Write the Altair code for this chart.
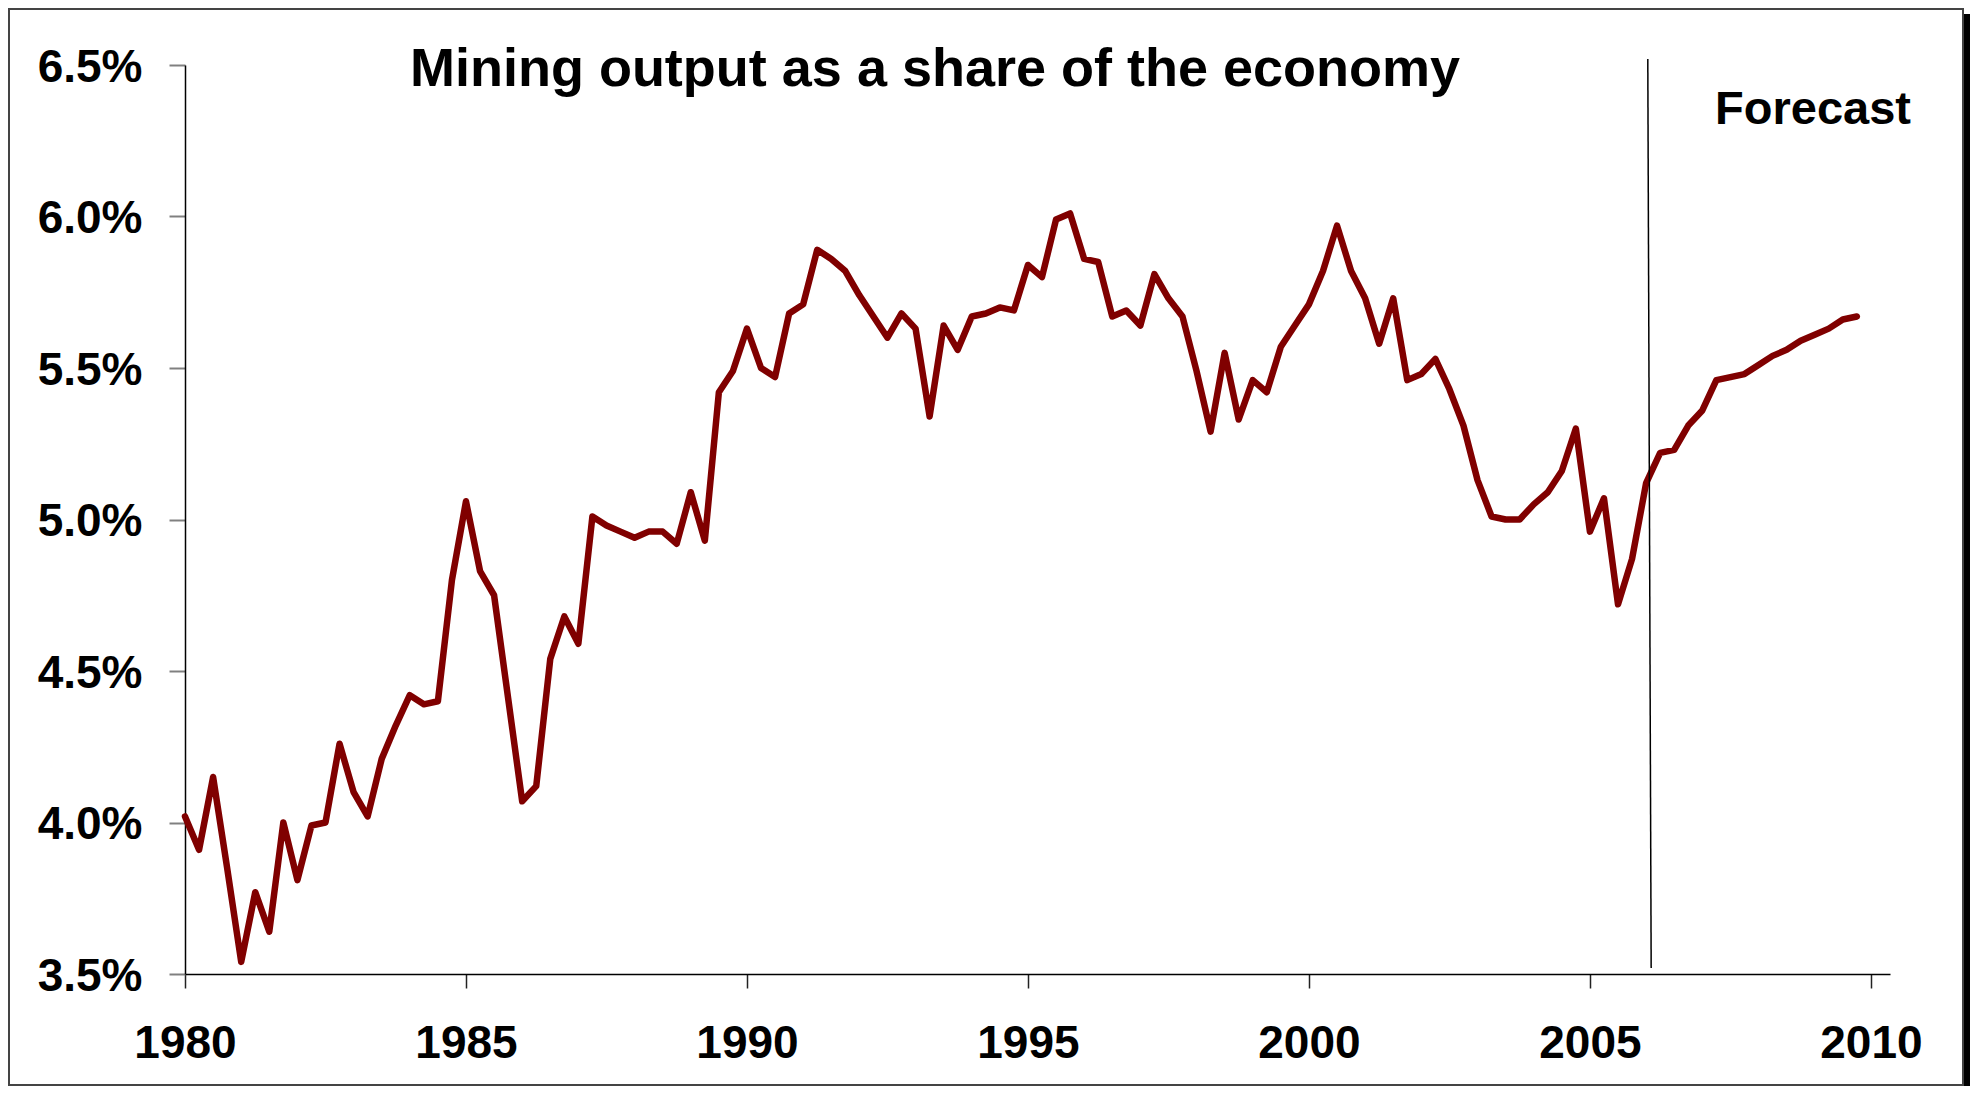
import altair as alt
import pandas as pd

# ---- data ----
start_year = 1980
share = [
    4.02, 3.91, 4.15, 3.85,   # 1980
    3.54, 3.77, 3.64, 4.00,   # 1981
    3.81, 3.99, 4.00, 4.26,   # 1982
    4.10, 4.02, 4.21, 4.32,   # 1983
    4.42, 4.39, 4.40, 4.80,   # 1984
    5.06, 4.83, 4.75, 4.41,   # 1985
    4.07, 4.12, 4.54, 4.68,   # 1986
    4.59, 5.01, 4.98, 4.96,   # 1987
    4.94, 4.96, 4.96, 4.92,   # 1988
    5.09, 4.93, 5.42, 5.49,   # 1989
    5.63, 5.50, 5.47, 5.68,   # 1990
    5.71, 5.89, 5.86, 5.82,   # 1991
    5.74, 5.67, 5.60, 5.68,   # 1992
    5.63, 5.34, 5.64, 5.56,   # 1993
    5.67, 5.68, 5.70, 5.69,   # 1994
    5.84, 5.80, 5.99, 6.01,   # 1995
    5.86, 5.85, 5.67, 5.69,   # 1996
    5.64, 5.81, 5.73, 5.67,   # 1997
    5.49, 5.29, 5.55, 5.33,   # 1998
    5.46, 5.42, 5.57, 5.64,   # 1999
    5.71, 5.82, 5.97, 5.82,   # 2000
    5.73, 5.58, 5.73, 5.46,   # 2001
    5.48, 5.53, 5.43, 5.31,   # 2002
    5.13, 5.01, 5.00, 5.00,   # 2003
    5.05, 5.09, 5.16, 5.30,   # 2004
    4.96, 5.07, 4.72, 4.87,   # 2005
    5.12, 5.22, 5.23, 5.31,   # 2006
    5.36, 5.46, 5.47, 5.48,   # 2007
    5.51, 5.54, 5.56, 5.59,   # 2008
    5.61, 5.63, 5.66, 5.67,   # 2009
]
x_ticks = [1980, 1985, 1990, 1995, 2000, 2005, 2010]
y_ticks = [3.5, 4.0, 4.5, 5.0, 5.5, 6.0, 6.5]
forecast_x = [2006.03, 2006.09]     # top, bottom of the marker line
forecast_y = [6.52, 3.52]
title_text = "Mining output as a share of the economy"
forecast_text = "Forecast"

# ---- layout ----
PAD_L, PAD_T = 177, 57
W, H = 1705, 909
SVG_W, SVG_H = 1962, 1078
PAD_R = SVG_W - PAD_L - W
PAD_B = SVG_H - PAD_T - H
X_DOMAIN = [1980, 2010.34]
Y_DOMAIN = [3.5, 6.5]
FONT = "Liberation Sans"

df = pd.DataFrame({
    "t": [start_year + i / 4 for i in range(len(share))],
    "v": share,
})

xs = alt.Scale(domain=X_DOMAIN, nice=False, zero=False)
ys = alt.Scale(domain=Y_DOMAIN, nice=False, zero=False)

x_axis = alt.Axis(values=x_ticks, format="d", title=None, grid=False,
                  labelFont=FONT, labelFontSize=46, labelFontWeight="bold",
                  labelColor="black", labelPadding=33, labelFlush=False,
                  labelOverlap=False, tickSize=14, tickColor="#222222",
                  tickWidth=1.5, domainColor="black", domainWidth=1.5)
y_axis = alt.Axis(values=y_ticks, labelExpr="format(datum.value, '.1f') + '%'",
                  title=None, grid=False, labelFont=FONT, labelFontSize=46,
                  labelFontWeight="bold", labelColor="black", labelPadding=27,
                  labelOffset=2, labelOverlap=False, labelFlush=False,
                  tickSize=16, tickColor="#808080", tickWidth=2,
                  domainColor="black", domainWidth=1.5)

line = alt.Chart(df).mark_line(
    color="#800000", strokeWidth=6.5, strokeJoin="round", strokeCap="round"
).encode(
    x=alt.X("t:Q", scale=xs, axis=x_axis),
    y=alt.Y("v:Q", scale=ys, axis=y_axis),
)

fc_df = pd.DataFrame({"x": [forecast_x[0]], "x2": [forecast_x[1]],
                      "y": [forecast_y[0]], "y2": [forecast_y[1]]})
forecast_rule = alt.Chart(fc_df).mark_rule(color="black", strokeWidth=1.5).encode(
    x=alt.X("x:Q", scale=xs), x2="x2:Q",
    y=alt.Y("y:Q", scale=ys), y2="y2:Q",
)

one = alt.Data(values=[{"a": 1}])

title = alt.Chart(one).mark_text(
    text=title_text, font=FONT, fontSize=54, fontWeight="bold", color="black",
    align="center", baseline="alphabetic"
).encode(x=alt.value(750), y=alt.value(21))

fc_label = alt.Chart(one).mark_text(
    text=forecast_text, font=FONT, fontSize=47, fontWeight="bold", color="black",
    align="center", baseline="alphabetic"
).encode(x=alt.value(1628), y=alt.value(58.5))

frame = alt.Chart(one).mark_rect(
    fillOpacity=0, stroke="#444444", strokeWidth=2
).encode(x=alt.value(1 - PAD_L), x2=alt.value(1955 - PAD_L),
         y=alt.value(1 - PAD_T), y2=alt.value(SVG_H - 1 - PAD_T))

shadow = alt.Chart(one).mark_rect(fill="black").encode(
    x=alt.value(1956 - PAD_L), x2=alt.value(SVG_W - PAD_L),
    y=alt.value(6 - PAD_T), y2=alt.value(SVG_H - PAD_T))

chart = alt.layer(frame, shadow, line, forecast_rule, title, fc_label).properties(
    width=W, height=H,
    autosize=alt.AutoSizeParams(type="none"),
    padding={"left": PAD_L, "top": PAD_T, "right": PAD_R, "bottom": PAD_B},
    background="white",
).configure_view(stroke=None)

chart.save("out.html", embed_options={"renderer": "svg", "actions": False})
